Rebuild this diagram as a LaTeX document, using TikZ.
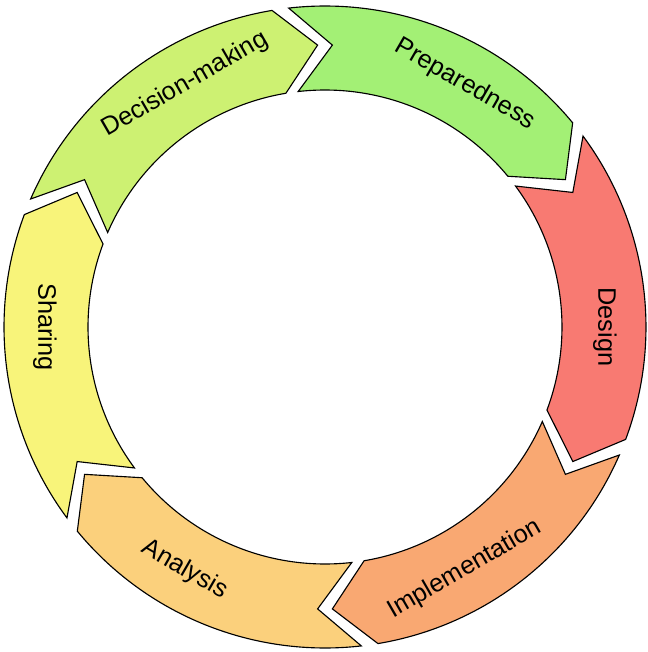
\documentclass[tikz,border=0pt]{standalone}
\usepackage{fontspec}
\setmainfont{Liberation Sans}
\definecolor{prepgreen}{RGB}{163,240,117}
\definecolor{designred}{RGB}{248,122,114}
\definecolor{implorange}{RGB}{249,168,114}
\definecolor{analysisorange}{RGB}{251,208,124}
\definecolor{sharingyellow}{RGB}{248,244,122}
\definecolor{decisiongreen}{RGB}{205,241,114}
\tikzset{
    cyclearrow/.style={draw=black, line width=0.8pt, line join=miter},
    cyclelabel/.style={font=\fontsize{18}{22}\selectfont, text=black}
}

\begin{document}
\begin{tikzpicture}
    \useasboundingbox (-8.125,-8.125) rectangle (8.075,8.175);

    \foreach \t/\c in {96.5/prepgreen, 36.5/designred, -23.5/implorange, -83.5/analysisorange, -143.5/sharingyellow, -203.5/decisiongreen}
        \filldraw[cyclearrow, fill=\c] (\t:8.025) arc[start angle=\t, end angle=\t-57, radius=8.025]
            -- (\t-65:7.05) -- (\t-57:5.925) arc[start angle=\t-57, end angle=\t, radius=5.925]
            -- (\t-8:7.05) -- cycle;

    \node[cyclelabel, rotate=-30] (prep) at (60:7.0) {Preparedness};
    \node[cyclelabel, rotate=-90] (design) at (0:7.0) {Design};
    \node[cyclelabel, rotate=30] (impl) at (-60:7.0) {Implementation};
    \node[cyclelabel, rotate=-30] (analysis) at (-120:7.0) {Analysis};
    \node[cyclelabel, rotate=-90] (sharing) at (180:7.0) {Sharing};
    \node[cyclelabel, rotate=30] (decision) at (120:7.0) {Decision-making};
\end{tikzpicture}
\end{document}
